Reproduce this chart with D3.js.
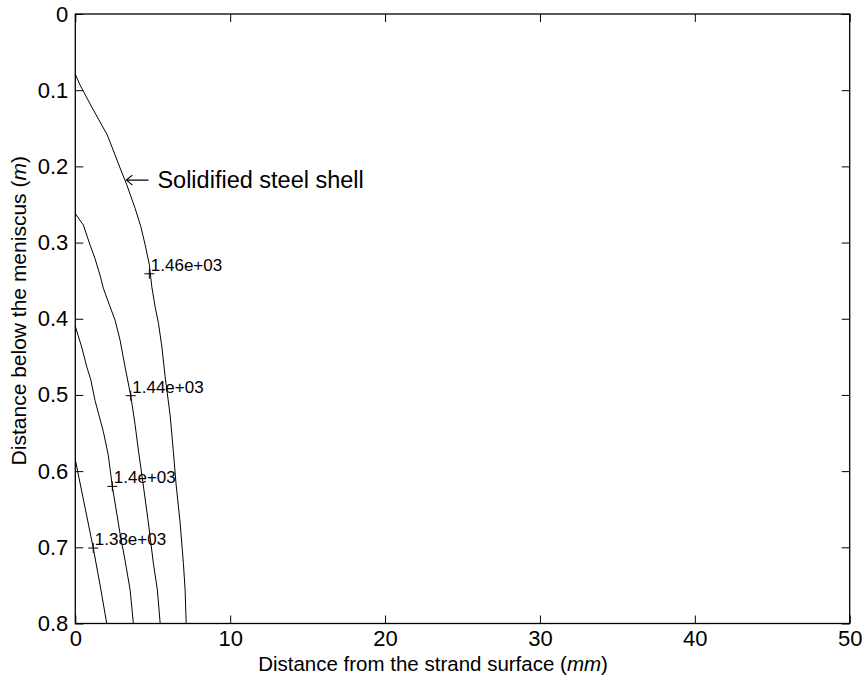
<!DOCTYPE html>
<html>
<head>
<meta charset="utf-8">
<script src="https://cdn.jsdelivr.net/npm/d3@7"></script>
<style>
  body { margin: 0; background: #fff; }
  svg { display: block; font-family: "Liberation Sans", Arial, sans-serif; }
</style>
</head>
<body>
<svg id="chart" width="866" height="686"></svg>
<script>
// tick values
const xTicks = [0, 10, 20, 30, 40, 50];
const yTicks = [0, 0.1, 0.2, 0.3, 0.4, 0.5, 0.6, 0.7, 0.8];

// contour levels (temperature) and their labels
const levels = [1460, 1440, 1400, 1380];
const levelLabels = ["1.46e+03", "1.44e+03", "1.4e+03", "1.38e+03"];

// contour lines: [distance from surface (mm), distance below meniscus (m)]
const contour1460 = [
  [0, 0.079], [0.30, 0.093], [1.06, 0.122], [2.07, 0.159], [2.89, 0.202],
  [3.32, 0.224], [3.86, 0.255], [4.23, 0.279], [4.51, 0.303], [4.78, 0.329],
  [4.94, 0.358], [5.15, 0.384], [5.37, 0.406], [5.59, 0.437], [5.80, 0.476],
  [6.12, 0.526], [6.33, 0.574], [6.51, 0.618], [6.77, 0.668], [6.98, 0.721],
  [7.09, 0.756], [7.16, 0.80]
];
const contour1440 = [
  [0, 0.262], [0.52, 0.277], [0.95, 0.303], [1.27, 0.321], [1.60, 0.343],
  [1.81, 0.360], [2.24, 0.384], [2.57, 0.402], [2.89, 0.428], [3.21, 0.463],
  [3.58, 0.501], [3.86, 0.539], [4.07, 0.572], [4.36, 0.614], [4.72, 0.668],
  [5.04, 0.721], [5.30, 0.756], [5.48, 0.80]
];
const contour1400 = [
  [0, 0.410], [0.41, 0.437], [0.74, 0.463], [1.0, 0.480], [1.27, 0.507],
  [1.81, 0.548], [2.13, 0.579], [2.39, 0.620], [2.89, 0.682], [3.21, 0.717],
  [3.54, 0.756], [3.75, 0.80]
];
const contour1380 = [
  [0, 0.585], [0.55, 0.640], [1.16, 0.701], [1.62, 0.752], [2.03, 0.80]
];
const contours = [contour1460, contour1440, contour1400, contour1380];

// where the level labels sit on each line
const labelPoints = [[4.78, 0.341], [3.58, 0.501], [2.39, 0.620], [1.16, 0.701]];

// annotation (arrow tip position)
const noteText = "Solidified steel shell";
const notePoint = [3.3, 0.218];

const W = 866, H = 686;
const margin = { left: 75.3, right: W - 849.7, top: 14, bottom: H - 623.5 };

const svg = d3.select("#chart");
const x = d3.scaleLinear().domain([0, 50]).range([margin.left, W - margin.right]);
const y = d3.scaleLinear().domain([0, 0.8]).range([margin.top, H - margin.bottom]);
const tickLen = 8;

// frame
svg.append("rect")
  .attr("x", x(0)).attr("y", y(0))
  .attr("width", x(50) - x(0)).attr("height", y(0.8) - y(0))
  .attr("fill", "none").attr("stroke", "#000").attr("stroke-width", 1.3);

// axes (ticks point inward, mirrored on opposite sides)
const fmtY = d => d === 0 ? "0" : d3.format(".1f")(d);
svg.append("g").attr("transform", `translate(0,${y(0.8)})`)
  .call(d3.axisBottom(x).tickValues(xTicks).tickSize(-tickLen).tickPadding(7))
  .call(g => g.select(".domain").remove());
svg.append("g").attr("transform", `translate(0,${y(0)})`)
  .call(d3.axisTop(x).tickValues(xTicks).tickSize(-tickLen).tickFormat(""))
  .call(g => g.select(".domain").remove());
svg.append("g").attr("transform", `translate(${x(0)},0)`)
  .call(d3.axisLeft(y).tickValues(yTicks).tickSize(-tickLen).tickPadding(7).tickFormat(fmtY))
  .call(g => g.select(".domain").remove());
svg.append("g").attr("transform", `translate(${x(50)},0)`)
  .call(d3.axisRight(y).tickValues(yTicks).tickSize(-tickLen).tickFormat(""))
  .call(g => g.select(".domain").remove());

svg.selectAll(".tick line").attr("stroke", "#000").attr("stroke-width", 1);
svg.selectAll(".tick text")
  .attr("fill", "#000")
  .style("font-size", "22px")
  .style("font-family", "'Liberation Sans', Arial, sans-serif");

// contour lines
const line = d3.line().x(d => x(d[0])).y(d => y(d[1]));
svg.append("g").selectAll("path")
  .data(contours)
  .join("path")
  .attr("d", line)
  .attr("fill", "none")
  .attr("stroke", "#000")
  .attr("stroke-width", 1);

// level labels with "+" markers
const lab = svg.append("g").selectAll("g")
  .data(labelPoints)
  .join("g")
  .attr("transform", d => `translate(${x(d[0])},${y(d[1])})`);
lab.append("path")
  .attr("d", "M-5,0H5M0,-5V5")
  .attr("stroke", "#000").attr("stroke-width", 1);
lab.append("text")
  .attr("x", 1.5).attr("y", -3)
  .style("font-size", "17px")
  .text((d, i) => levelLabels[i]);

// annotation with left arrow
const ax = x(notePoint[0]), ay = y(notePoint[1]);
svg.append("path")
  .attr("d", `M${ax},${ay}H${ax + 22}M${ax + 6},${ay - 5}L${ax},${ay}L${ax + 6},${ay + 5}`)
  .attr("fill", "none").attr("stroke", "#000").attr("stroke-width", 1.2);
svg.append("text")
  .attr("x", ax + 31)
  .attr("y", ay + 7.5)
  .style("font-size", "23.5px")
  .text(noteText);

// axis titles
const xt = svg.append("text")
  .attr("x", 433).attr("y", 671)
  .attr("text-anchor", "middle")
  .style("font-size", "20.5px");
xt.append("tspan").text("Distance from the strand surface (");
xt.append("tspan").style("font-style", "italic").text("mm");
xt.append("tspan").text(")");

const yt = svg.append("text")
  .attr("transform", `translate(26,${(y(0) + y(0.8)) / 2 - 8}) rotate(-90)`)
  .attr("text-anchor", "middle")
  .style("font-size", "21px");
yt.append("tspan").text("Distance below the meniscus (");
yt.append("tspan").style("font-style", "italic").text("m");
yt.append("tspan").text(")");
</script>
</body>
</html>
